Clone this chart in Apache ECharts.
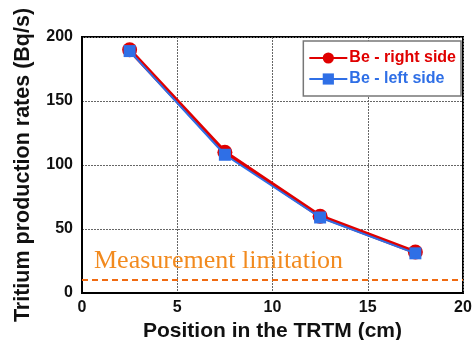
<!DOCTYPE html>
<html>
<head>
<meta charset="utf-8">
<script src="https://cdn.jsdelivr.net/npm/echarts@6/dist/echarts.min.js"></script>
<style>
  html, body { margin: 0; padding: 0; background: #fff; }
  #chart { width: 472px; height: 340px; }
</style>
</head>
<body>
<div id="chart"></div>
<script>
// positions along the TRTM (cm)
var positions = [2.5, 7.5, 12.5, 17.5];
var rightSide = [190, 110, 60, 32];
var leftSide = [189, 108, 59, 31];
var limitValue = 10;

var myChart = echarts.init(document.getElementById('chart'));

function pairs(xs, ys) {
  return xs.map(function (x, i) { return [x, ys[i]]; });
}

var option = {
  animation: false,
  backgroundColor: '#fff',
  textStyle: { fontFamily: 'Liberation Sans, Arial, sans-serif' },
  grid: {
    left: 82, right: 9, top: 37, bottom: 47,
    outerBoundsMode: 'none',
    show: true, borderColor: '#000', borderWidth: 2
  },
  legend: {
    right: 11, top: 41,
    orient: 'vertical',
    itemGap: 5,
    itemWidth: 38, itemHeight: 14,
    padding: [9, 5, 9, 5],
    borderColor: '#777', borderWidth: 1.5,
    backgroundColor: '#fff',
    textStyle: { fontSize: 16, fontWeight: 'bold', padding: [0, 0, 0, -3] },
    data: [
      { name: 'Be - right side', textStyle: { color: '#e00000' } },
      { name: 'Be - left side', textStyle: { color: '#2f6fe6' } }
    ]
  },
  xAxis: {
    type: 'value', min: 0, max: 20, interval: 5,
    name: 'Position in the TRTM (cm)',
    nameLocation: 'middle', nameGap: 23,
    nameTextStyle: { fontSize: 21, fontWeight: 'bold', color: '#111' },
    axisLine: { lineStyle: { color: '#000', width: 2 } },
    axisTick: { show: false },
    axisLabel: { fontSize: 16, fontWeight: 'bold', color: '#111', margin: 7 },
    splitLine: { lineStyle: { color: '#666', type: [2, 1], width: 1 } }
  },
  yAxis: {
    type: 'value', min: 0, max: 200, interval: 50,
    name: 'Tritium production rates (Bq/s)',
    nameLocation: 'middle', nameGap: 48,
    nameTextStyle: { fontSize: 21.5, fontWeight: 'bold', color: '#111' },
    axisLine: { lineStyle: { color: '#000', width: 2 } },
    axisTick: { show: false },
    axisLabel: { fontSize: 16, fontWeight: 'bold', color: '#111', margin: 9 },
    splitLine: { lineStyle: { color: '#666', type: [2, 1], width: 1 } }
  },
  series: [
    {
      name: 'Be - right side',
      type: 'line',
      data: pairs(positions, rightSide),
      color: '#e00000',
      lineStyle: { width: 4, color: '#e00000' },
      symbol: 'circle', symbolSize: 15,
      itemStyle: { color: '#e00000' },
      z: 2,
      markLine: {
        silent: true,
        symbol: 'none',
        lineStyle: { color: '#f06a10', type: [6, 4], width: 2 },
        label: {
          show: true,
          position: 'insideStartTop',
          formatter: 'Measurement limitation',
          fontFamily: 'Liberation Serif, Times New Roman, serif',
          fontSize: 26,
          color: '#f28a1e',
          distance: [12, 6]
        },
        data: [{ yAxis: limitValue }]
      }
    },
    {
      name: 'Be - left side',
      type: 'line',
      data: pairs(positions, leftSide),
      color: '#2f6fe6',
      lineStyle: { width: 2, color: '#2f6fe6' },
      symbol: 'rect', symbolSize: 12,
      itemStyle: { color: '#2f6fe6' },
      z: 3
    }
  ]
};
myChart.setOption(option);
window.onresize = function () {
  myChart.resize();
};
</script>
</body>
</html>
